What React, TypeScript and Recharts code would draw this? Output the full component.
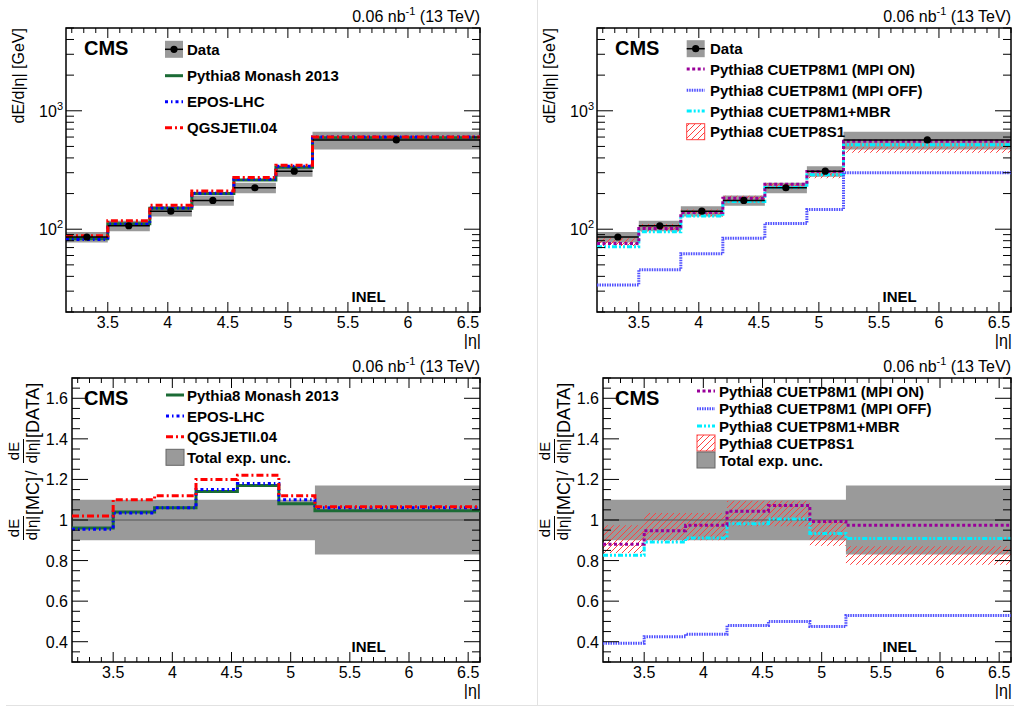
import React from 'react'
import {
  ComposedChart,
  Line,
  Area,
  Scatter,
  ErrorBar,
  XAxis,
  YAxis,
  ReferenceArea,
  ReferenceLine,
} from 'recharts'

const FONT = '"Liberation Sans", Arial, Helvetica, sans-serif'

// |eta| bins (HF towers + CASTOR)
const etaEdges = [3.152, 3.5, 3.85, 4.2, 4.55, 4.9, 5.205, 6.6]
const etaCenters = [3.326, 3.675, 4.025, 4.375, 4.725, 5.053, 5.903]

// dE/d|eta| [GeV]
const dataE = [86, 107, 142, 175, 224, 309, 568]
const dataLoE = [77.4, 96.3, 127.8, 157.5, 201.6, 278, 471]
const dataHiE = [94.6, 117.7, 156.2, 192.5, 246.4, 340, 665]
const monashE = [83, 111, 150, 200, 260, 334, 591]
const eposE = [82, 110, 151, 201, 264, 340, 602]
const qgsjetE = [88, 118, 159, 210, 273, 346, 602]
const mpiOnE = [75.8, 101.3, 138.3, 182.5, 240, 307, 553]
const mpiOffE = [33.8, 45.5, 62, 84, 112, 147, 300]
const mbrE = [71, 95.3, 129.4, 171.8, 225, 288.6, 516]
const s1LoE = [72, 95.8, 127.8, 169.6, 217, 270, 443]
const s1HiE = [83.8, 110.7, 147, 191.6, 245, 307, 494]

// MC / DATA
const uncLoR = [0.9, 0.9, 0.9, 0.9, 0.9, 0.9, 0.83]
const uncHiR = [1.1, 1.1, 1.1, 1.1, 1.1, 1.1, 1.17]
const monashR = [0.96, 1.04, 1.06, 1.14, 1.17, 1.08, 1.045]
const eposR = [0.955, 1.035, 1.06, 1.15, 1.18, 1.1, 1.06]
const qgsjetR = [1.02, 1.1, 1.12, 1.2, 1.22, 1.12, 1.065]
const mpiOnR = [0.88, 0.947, 0.974, 1.043, 1.072, 0.993, 0.974]
const mpiOffR = [0.393, 0.425, 0.437, 0.48, 0.5, 0.475, 0.529]
const mbrR = [0.826, 0.891, 0.911, 0.982, 1.005, 0.934, 0.909]
const s1LoR = [0.837, 0.895, 0.9, 0.969, 0.969, 0.873, 0.78]
const s1HiR = [0.974, 1.035, 1.035, 1.095, 1.095, 0.993, 0.87]

// axis ticks
const xMajor = [3.5, 4, 4.5, 5, 5.5, 6, 6.5]
const xTicks = Array.from({ length: 35 }, (_, i) => Math.round((3.2 + i * 0.1) * 10) / 10)
const logMajor = [100, 1000]
const logTicks = [10, 100, 1000]
  .flatMap((d) => [1, 2, 3, 4, 5, 6, 7, 8, 9].map((k) => k * d))
  .filter((v) => v >= 20 && v <= 5000)
const ratioMajor = [0.4, 0.6, 0.8, 1, 1.2, 1.4, 1.6]
const ratioTicks = Array.from({ length: 29 }, (_, i) => Math.round((0.3 + i * 0.05) * 100) / 100)

const GRAY = '#9a9a9a'
const GREEN = '#1b6b35'
const BLUE = '#0000ff'
const RED = '#ff0000'
const PURPLE = '#990099'
const OFFBLUE = '#5050ff'
const CYAN = '#00eeff'
const HATCH = '#ff4040'

const PW = 483
const TOP_H = 350
const BOT_H = 357
// plot frame inside each panel: left / right / top / bottom in px
const topFrame = { left: 66, right: 3, top: 28, bottom: 38 }
const botFrame = { left: 72, right: 3, top: 28, bottom: 45 }

const stepRows = (series: Record<string, number[]>) =>
  etaEdges.map((x, i) => {
    const bin = Math.min(i, etaCenters.length - 1)
    const row: any = { x }
    for (const k in series) row[k] = series[k][bin]
    return row
  })

const pointRows = etaCenters.map((x, i) => ({
  x,
  y: dataE[i],
  xerr: [x - etaEdges[i], etaEdges[i + 1] - x],
}))

const isMajor = (majors: number[], v: number) => majors.some((m) => Math.abs(m - v) < 1e-6)

function makeXTick(plotH: number) {
  return (p: any) => {
    const v = p.payload.value
    const major = isMajor(xMajor, v)
    const len = major ? 10 : 5
    return (
      <g>
        <line x1={p.x} x2={p.x} y1={p.y} y2={p.y - len} stroke="#000" />
        <line x1={p.x} x2={p.x} y1={p.y - plotH} y2={p.y - plotH + len} stroke="#000" />
        {major && (
          <text x={p.x} y={p.y + 16} textAnchor="middle" fontSize={16} fontFamily={FONT} fill="#000">
            {v}
          </text>
        )}
      </g>
    )
  }
}

function makeYTick(plotW: number, log: boolean) {
  return (p: any) => {
    const v = p.payload.value
    const major = isMajor(log ? logMajor : ratioMajor, v)
    const len = major ? 16 : 8
    return (
      <g>
        <line x1={p.x} x2={p.x + len} y1={p.y} y2={p.y} stroke="#000" />
        <line x1={p.x + plotW} x2={p.x + plotW - len} y1={p.y} y2={p.y} stroke="#000" />
        {major && (
          <text x={p.x - (log ? 3 : 4)} y={p.y + 6} textAnchor="end" fontSize={16} fontFamily={FONT} fill="#000">
            {log ? (
              <>
                10
                <tspan dy={-7} fontSize={11}>
                  {Math.round(Math.log10(v))}
                </tspan>
              </>
            ) : (
              String(v)
            )}
          </text>
        )}
      </g>
    )
  }
}

type LegendItem = { label: string; kind: 'data' | 'line' | 'box' | 'hatch'; color?: string; dash?: string }

function Legend({ items, sx, tx, ys }: { items: LegendItem[]; sx: number; tx: number; ys: number[] }) {
  return (
    <g>
      {items.map((it, i) => {
        const y = ys[i]
        let sw: React.ReactNode = null
        if (it.kind === 'data')
          sw = (
            <>
              <rect x={sx} y={y - 8.5} width={18} height={17} fill={GRAY} />
              <line x1={sx} x2={sx + 18} y1={y} y2={y} stroke="#000" strokeWidth={1.5} />
              <circle cx={sx + 9} cy={y} r={3.6} fill="#000" />
            </>
          )
        else if (it.kind === 'line')
          sw = <line x1={sx} x2={sx + 18} y1={y} y2={y} stroke={it.color} strokeWidth={3} strokeDasharray={it.dash} />
        else if (it.kind === 'box')
          sw = <rect x={sx} y={y - 8} width={18} height={16} fill={GRAY} stroke="#666" strokeWidth={1} />
        else
          sw = <rect x={sx} y={y - 8} width={18} height={16} fill="url(#s1hatch)" stroke={HATCH} strokeWidth={1} />
        return (
          <g key={it.label}>
            {sw}
            <text x={tx} y={y} dominantBaseline="central" fontSize={15} fontWeight="bold" fontFamily={FONT} fill="#000">
              {it.label}
            </text>
          </g>
        )
      })}
    </g>
  )
}

function Frac({ x }: { x: number }) {
  return (
    <g>
      <text x={x + 12} y={19} fontSize={15} textAnchor="middle">
        dE
      </text>
      <line x1={x} x2={x + 24} y1={23.5} y2={23.5} stroke="#000" strokeWidth={1} />
      <text x={x + 12} y={37} fontSize={15} textAnchor="middle">
        d|η|
      </text>
    </g>
  )
}

function PanelText({ ratio, children }: { ratio: boolean; children?: React.ReactNode }) {
  const H = ratio ? BOT_H : TOP_H
  return (
    <svg
      width={PW}
      height={H}
      style={{ position: 'absolute', left: 0, top: 0, pointerEvents: 'none', overflow: 'visible' }}
      fontFamily={FONT}
    >
      <defs>
        <pattern id="s1hatch" patternUnits="userSpaceOnUse" width={6} height={6}>
          <path d="M0,6 L6,0 M-1,1 L1,-1 M5,7 L7,5" stroke={HATCH} strokeWidth={1} />
        </pattern>
      </defs>
      <text x={480} y={21.5} textAnchor="end" fontSize={16} fill="#000">
        0.06 nb
        <tspan dy={-7} fontSize={11}>
          -1
        </tspan>
        <tspan dy={7}> (13 TeV)</tspan>
      </text>
      <text x={84} y={55} fontSize={20} fontWeight="bold" fill="#000">
        CMS
      </text>
      <text x={351.5} y={301.5} fontSize={15} fontWeight="bold" fill="#000">
        INEL
      </text>
      <text x={481} y={346} textAnchor="end" fontSize={16} fill="#000">
        |η|
      </text>
      {ratio ? (
        <g transform="translate(0,190) rotate(-90)" fill="#000">
          <Frac x={0} />
          <text x={25} y={39} fontSize={18}>
            [MC]
          </text>
          <text x={65} y={37} fontSize={16}>
            /
          </text>
          <Frac x={77} />
          <text x={102} y={39} fontSize={18}>
            [DATA]
          </text>
        </g>
      ) : (
        <text transform="translate(24,28) rotate(-90)" textAnchor="end" fontSize={16} fill="#000">
          dE/d|η| [GeV]
        </text>
      )}
      {children}
    </svg>
  )
}

function Panel({
  left,
  top,
  ratio,
  rows,
  children,
  overlay,
}: {
  left: number
  top: number
  ratio: boolean
  rows: any[]
  children: React.ReactNode
  overlay: React.ReactNode
}) {
  const H = ratio ? BOT_H : TOP_H
  const f = ratio ? botFrame : topFrame
  const plotW = PW - f.left - f.right
  const plotH = H - f.top - f.bottom
  const yDomain: [number, number] = ratio ? [0.3, 1.7] : [20, 5000]
  return (
    <div style={{ position: 'absolute', left, top, width: PW, height: H }}>
      <ComposedChart width={PW} height={H} data={rows} margin={{ top: f.top, right: f.right, bottom: 0, left: 0 }}>
        <XAxis
          dataKey="x"
          type="number"
          domain={[etaEdges[0], etaEdges[etaEdges.length - 1]]}
          allowDataOverflow
          ticks={xTicks}
          interval={0}
          height={f.bottom}
          tickSize={0}
          tickMargin={0}
          tickLine={false}
          axisLine={false}
          tick={makeXTick(plotH)}
        />
        <YAxis
          type="number"
          scale={ratio ? 'linear' : 'log'}
          domain={yDomain}
          allowDataOverflow
          ticks={ratio ? ratioTicks : logTicks}
          interval={0}
          width={f.left}
          tickSize={0}
          tickMargin={0}
          tickLine={false}
          axisLine={false}
          tick={makeYTick(plotW, !ratio)}
        />
        {children}
        <ReferenceArea
          x1={etaEdges[0]}
          x2={etaEdges[etaEdges.length - 1]}
          y1={yDomain[0]}
          y2={yDomain[1]}
          fill="none"
          stroke="#000"
          strokeWidth={1.5}
          ifOverflow="visible"
        />
      </ComposedChart>
      {overlay}
    </div>
  )
}

const band = (lo: string, hi: string, fill: string) => (
  <Area
    type="stepAfter"
    dataKey={(d: any) => [d[lo], d[hi]]}
    fill={fill}
    fillOpacity={1}
    stroke="none"
    isAnimationActive={false}
  />
)

const step = (key: string, color: string, dash?: string) => (
  <Line
    type="stepAfter"
    dataKey={key}
    stroke={color}
    strokeWidth={3}
    strokeDasharray={dash}
    dot={false}
    isAnimationActive={false}
  />
)

const dataPoints = (
  <Scatter
    data={pointRows}
    dataKey="y"
    isAnimationActive={false}
    shape={(p: any) => <circle cx={p.cx} cy={p.cy} r={3.6} fill="#000" />}
  >
    <ErrorBar dataKey="xerr" direction="x" width={0} stroke="#000" strokeWidth={1.5} isAnimationActive={false} />
  </Scatter>
)

const DASH_EPOS = '3 3 1.5 3'
const DASH_QGS = '7 3 2 3'
const DASH_ON = '3 2.5'
const DASH_OFF = '1.5 1'
const DASH_MBR = '5 2 2 2 2 2'

export default function App() {
  const tl = stepRows({ lo: dataLoE, hi: dataHiE, monash: monashE, epos: eposE, qgs: qgsjetE })
  const tr = stepRows({ lo: dataLoE, hi: dataHiE, on: mpiOnE, off: mpiOffE, mbr: mbrE, s1lo: s1LoE, s1hi: s1HiE })
  const bl = stepRows({ lo: uncLoR, hi: uncHiR, monash: monashR, epos: eposR, qgs: qgsjetR })
  const br = stepRows({ lo: uncLoR, hi: uncHiR, on: mpiOnR, off: mpiOffR, mbr: mbrR, s1lo: s1LoR, s1hi: s1HiR })

  const legLeft: LegendItem[] = [
    { label: 'Pythia8 Monash 2013', kind: 'line', color: GREEN },
    { label: 'EPOS-LHC', kind: 'line', color: BLUE, dash: DASH_EPOS },
    { label: 'QGSJETII.04', kind: 'line', color: RED, dash: DASH_QGS },
  ]
  const legRight: LegendItem[] = [
    { label: 'Pythia8 CUETP8M1 (MPI ON)', kind: 'line', color: PURPLE, dash: DASH_ON },
    { label: 'Pythia8 CUETP8M1 (MPI OFF)', kind: 'line', color: OFFBLUE, dash: DASH_OFF },
    { label: 'Pythia8 CUETP8M1+MBR', kind: 'line', color: CYAN, dash: DASH_MBR },
    { label: 'Pythia8 CUETP8S1', kind: 'hatch' },
  ]
  const dataItem: LegendItem = { label: 'Data', kind: 'data' }
  const uncItem: LegendItem = { label: 'Total exp. unc.', kind: 'box' }

  return (
    <div style={{ position: 'absolute', left: 0, top: 0, width: 1014, height: 707, background: '#fff', overflow: 'hidden' }}>
      <Panel
        left={0}
        top={0}
        ratio={false}
        rows={tl}
        overlay={
          <PanelText ratio={false}>
            <Legend items={[dataItem, ...legLeft]} sx={165} tx={187} ys={[49.3, 75.7, 101.7, 127.7]} />
          </PanelText>
        }
      >
        {band('lo', 'hi', GRAY)}
        {step('monash', GREEN)}
        {step('epos', BLUE, DASH_EPOS)}
        {step('qgs', RED, DASH_QGS)}
        {dataPoints}
      </Panel>

      <Panel
        left={531}
        top={0}
        ratio={false}
        rows={tr}
        overlay={
          <PanelText ratio={false}>
            <Legend items={[dataItem, ...legRight]} sx={155.7} tx={179} ys={[48.7, 69, 90.3, 111, 131.7]} />
          </PanelText>
        }
      >
        {band('lo', 'hi', GRAY)}
        {band('s1lo', 's1hi', 'url(#s1hatch)')}
        {step('mbr', CYAN, DASH_MBR)}
        {step('off', OFFBLUE, DASH_OFF)}
        {step('on', PURPLE, DASH_ON)}
        {dataPoints}
      </Panel>

      <Panel
        left={0}
        top={350}
        ratio
        rows={bl}
        overlay={
          <PanelText ratio>
            <Legend items={[...legLeft, uncItem]} sx={166} tx={187} ys={[45, 66, 86.7, 107.3]} />
          </PanelText>
        }
      >
        {band('lo', 'hi', GRAY)}
        <ReferenceLine y={1} stroke="#555" strokeWidth={1.2} />
        {step('monash', GREEN)}
        {step('epos', BLUE, DASH_EPOS)}
        {step('qgs', RED, DASH_QGS)}
      </Panel>

      <Panel
        left={531}
        top={350}
        ratio
        rows={br}
        overlay={
          <PanelText ratio>
            <Legend items={[...legRight, uncItem]} sx={166} tx={188} ys={[41, 58.7, 76, 93, 110]} />
          </PanelText>
        }
      >
        {band('lo', 'hi', GRAY)}
        {band('s1lo', 's1hi', 'url(#s1hatch)')}
        <ReferenceLine y={1} stroke="#555" strokeWidth={1.2} />
        {step('mbr', CYAN, DASH_MBR)}
        {step('off', OFFBLUE, DASH_OFF)}
        {step('on', PURPLE, DASH_ON)}
      </Panel>

      <div style={{ position: 'absolute', left: 537, top: 0, width: 1, height: 706, background: '#e2e2e2' }} />
      <div style={{ position: 'absolute', left: 6, top: 705, width: 1008, height: 1, background: '#e2e2e2' }} />
    </div>
  )
}
